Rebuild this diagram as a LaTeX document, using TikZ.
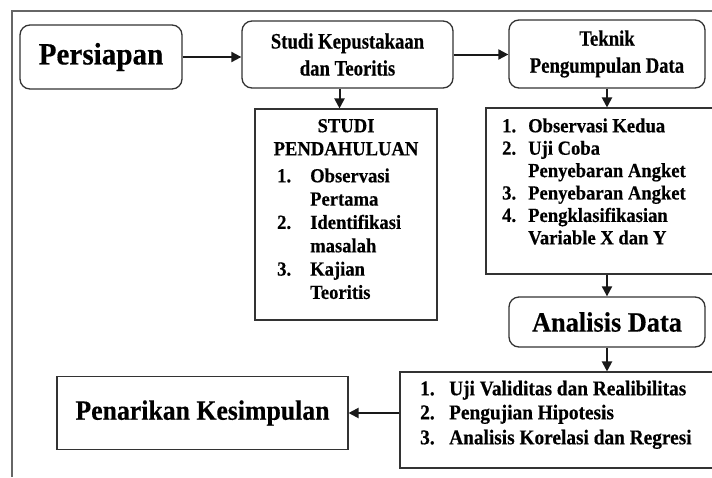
\documentclass[tikz,border=0pt]{standalone}
\usepackage{fontspec}
\setmainfont{Liberation Serif}
\newfontfamily\fList{Liberation Serif Bold}[FakeBold=0.4, FakeStretch=0.93]
\newfontfamily\fHead{Liberation Serif Bold}[FakeBold=0.4, FakeStretch=0.85]
\newfontfamily\fBig{Liberation Serif Bold}[FakeBold=0.4, FakeStretch=0.94]
\newfontfamily\fBot{Liberation Serif Bold}[FakeBold=0.4, FakeStretch=0.92]
\usetikzlibrary{arrows.meta}
\definecolor{linegray}{HTML}{333333}
\definecolor{framegray}{HTML}{666666}
\begin{document}
\begin{tikzpicture}[x=1pt,y=-1pt,
  rbox/.style={draw=linegray, line width=1.3pt, rounded corners=10pt, inner sep=0pt},
  sbox/.style={draw=linegray, line width=1.1pt, inner sep=0pt},
  arr/.style={-{Triangle[length=10pt,width=10pt]}, line width=2pt, draw=black!90},
  txt/.style={font=\fList\fontsize{20}{23}\selectfont, inner sep=0pt, anchor=mid west},
  ctxt/.style={font=\fList\fontsize{20}{23}\selectfont, inner sep=0pt, anchor=mid},
  ltxt/.style={font=\fBot\fontsize{21}{24}\selectfont, inner sep=0pt, anchor=mid west}
]
\useasboundingbox (0,0) rectangle (712,477);
\draw[framegray, line width=1.4pt] (12,477) -- (12,11) -- (712,11);

\node[rbox, minimum width=162pt, minimum height=64pt,
  font=\fBig\fontsize{31}{34}\selectfont] (pers) at (101,57) {Persiapan};
\node[rbox, minimum width=211pt, minimum height=67pt, align=center,
  font=\fHead\fontsize{22}{27}\selectfont] (studi) at (347.5,54.5) {Studi Kepustakaan\\dan Teoritis};
\node[rbox, minimum width=196pt, minimum height=68pt, align=center,
  font=\fHead\fontsize{22}{27}\selectfont] (teknik) at (607,54) {Teknik\\Pengumpulan Data};
\node[sbox, minimum width=182pt, minimum height=211pt] (pend) at (346,214.5) {};
\node[sbox, minimum width=230pt, minimum height=166pt] (listA) at (601,191) {};
\node[rbox, minimum width=196pt, minimum height=50pt,
  font=\fBig\fontsize{28}{30}\selectfont] (anal) at (607,322) {Analisis Data};
\node[sbox, minimum width=316pt, minimum height=96pt] (listB) at (558,420) {};
\node[sbox, minimum width=291pt, minimum height=73pt,
  font=\fBot\fontsize{28}{30}\selectfont] (pen) at (202.5,413) {Penarikan Kesimpulan};

% texts in STUDI PENDAHULUAN
\node[ctxt] (p0) at (346,130) {STUDI};
\node[ctxt] (p00) at (346,153) {PENDAHULUAN};
\node[txt] (p1n) at (277,180) {1.};
\node[txt] (p1) at (310,180) {Observasi};
\node[txt] (p1b) at (310,203.3) {Pertama};
\node[txt] (p2n) at (277,226.6) {2.};
\node[txt] (p2) at (310,226.6) {Identifikasi};
\node[txt] (p2b) at (310,250) {masalah};
\node[txt] (p3n) at (277,273.3) {3.};
\node[txt] (p3) at (310,273.3) {Kajian};
\node[txt] (p3b) at (310,296.6) {Teoritis};

% texts in list A
\node[txt] (a1n) at (502,130) {1.};
\node[txt] (a1) at (528,130) {Observasi Kedua};
\node[txt] (a2n) at (502,152.4) {2.};
\node[txt] (a2) at (528,152.4) {Uji Coba};
\node[txt] (a2b) at (528,174.8) {Penyebaran Angket};
\node[txt] (a3n) at (502,197.2) {3.};
\node[txt] (a3) at (528,197.2) {Penyebaran Angket};
\node[txt] (a4n) at (502,219.6) {4.};
\node[txt] (a4) at (528,219.6) {Pengklasifikasian};
\node[txt] (a4b) at (528,242) {Variable X dan Y};

% texts in list B
\node[ltxt] (b1n) at (420,393) {1.};
\node[ltxt] (b1) at (449,393) {Uji Validitas dan Realibilitas};
\node[ltxt] (b2n) at (420,417) {2.};
\node[ltxt] (b2) at (449,417) {Pengujian Hipotesis};
\node[ltxt] (b3n) at (420,442) {3.};
\node[ltxt] (b3) at (449,442) {Analisis Korelasi dan Regresi};

% connectors
\draw[arr] (pers.east) -- (pers.east -| studi.west);
\draw[arr] (studi.east) -- (studi.east -| teknik.west);
\draw[arr] ([xshift=-8pt]studi.south) -- ([xshift=-8pt]studi.south |- pend.north);
\draw[arr] (teknik.south) -- (teknik.south |- listA.north);
\draw[arr] (listA.south -| anal.north) -- (anal.north);
\draw[arr] (anal.south) -- (anal.south |- listB.north);
\draw[arr] (listB.west |- pen.east) -- (pen.east);
\end{tikzpicture}
\end{document}
